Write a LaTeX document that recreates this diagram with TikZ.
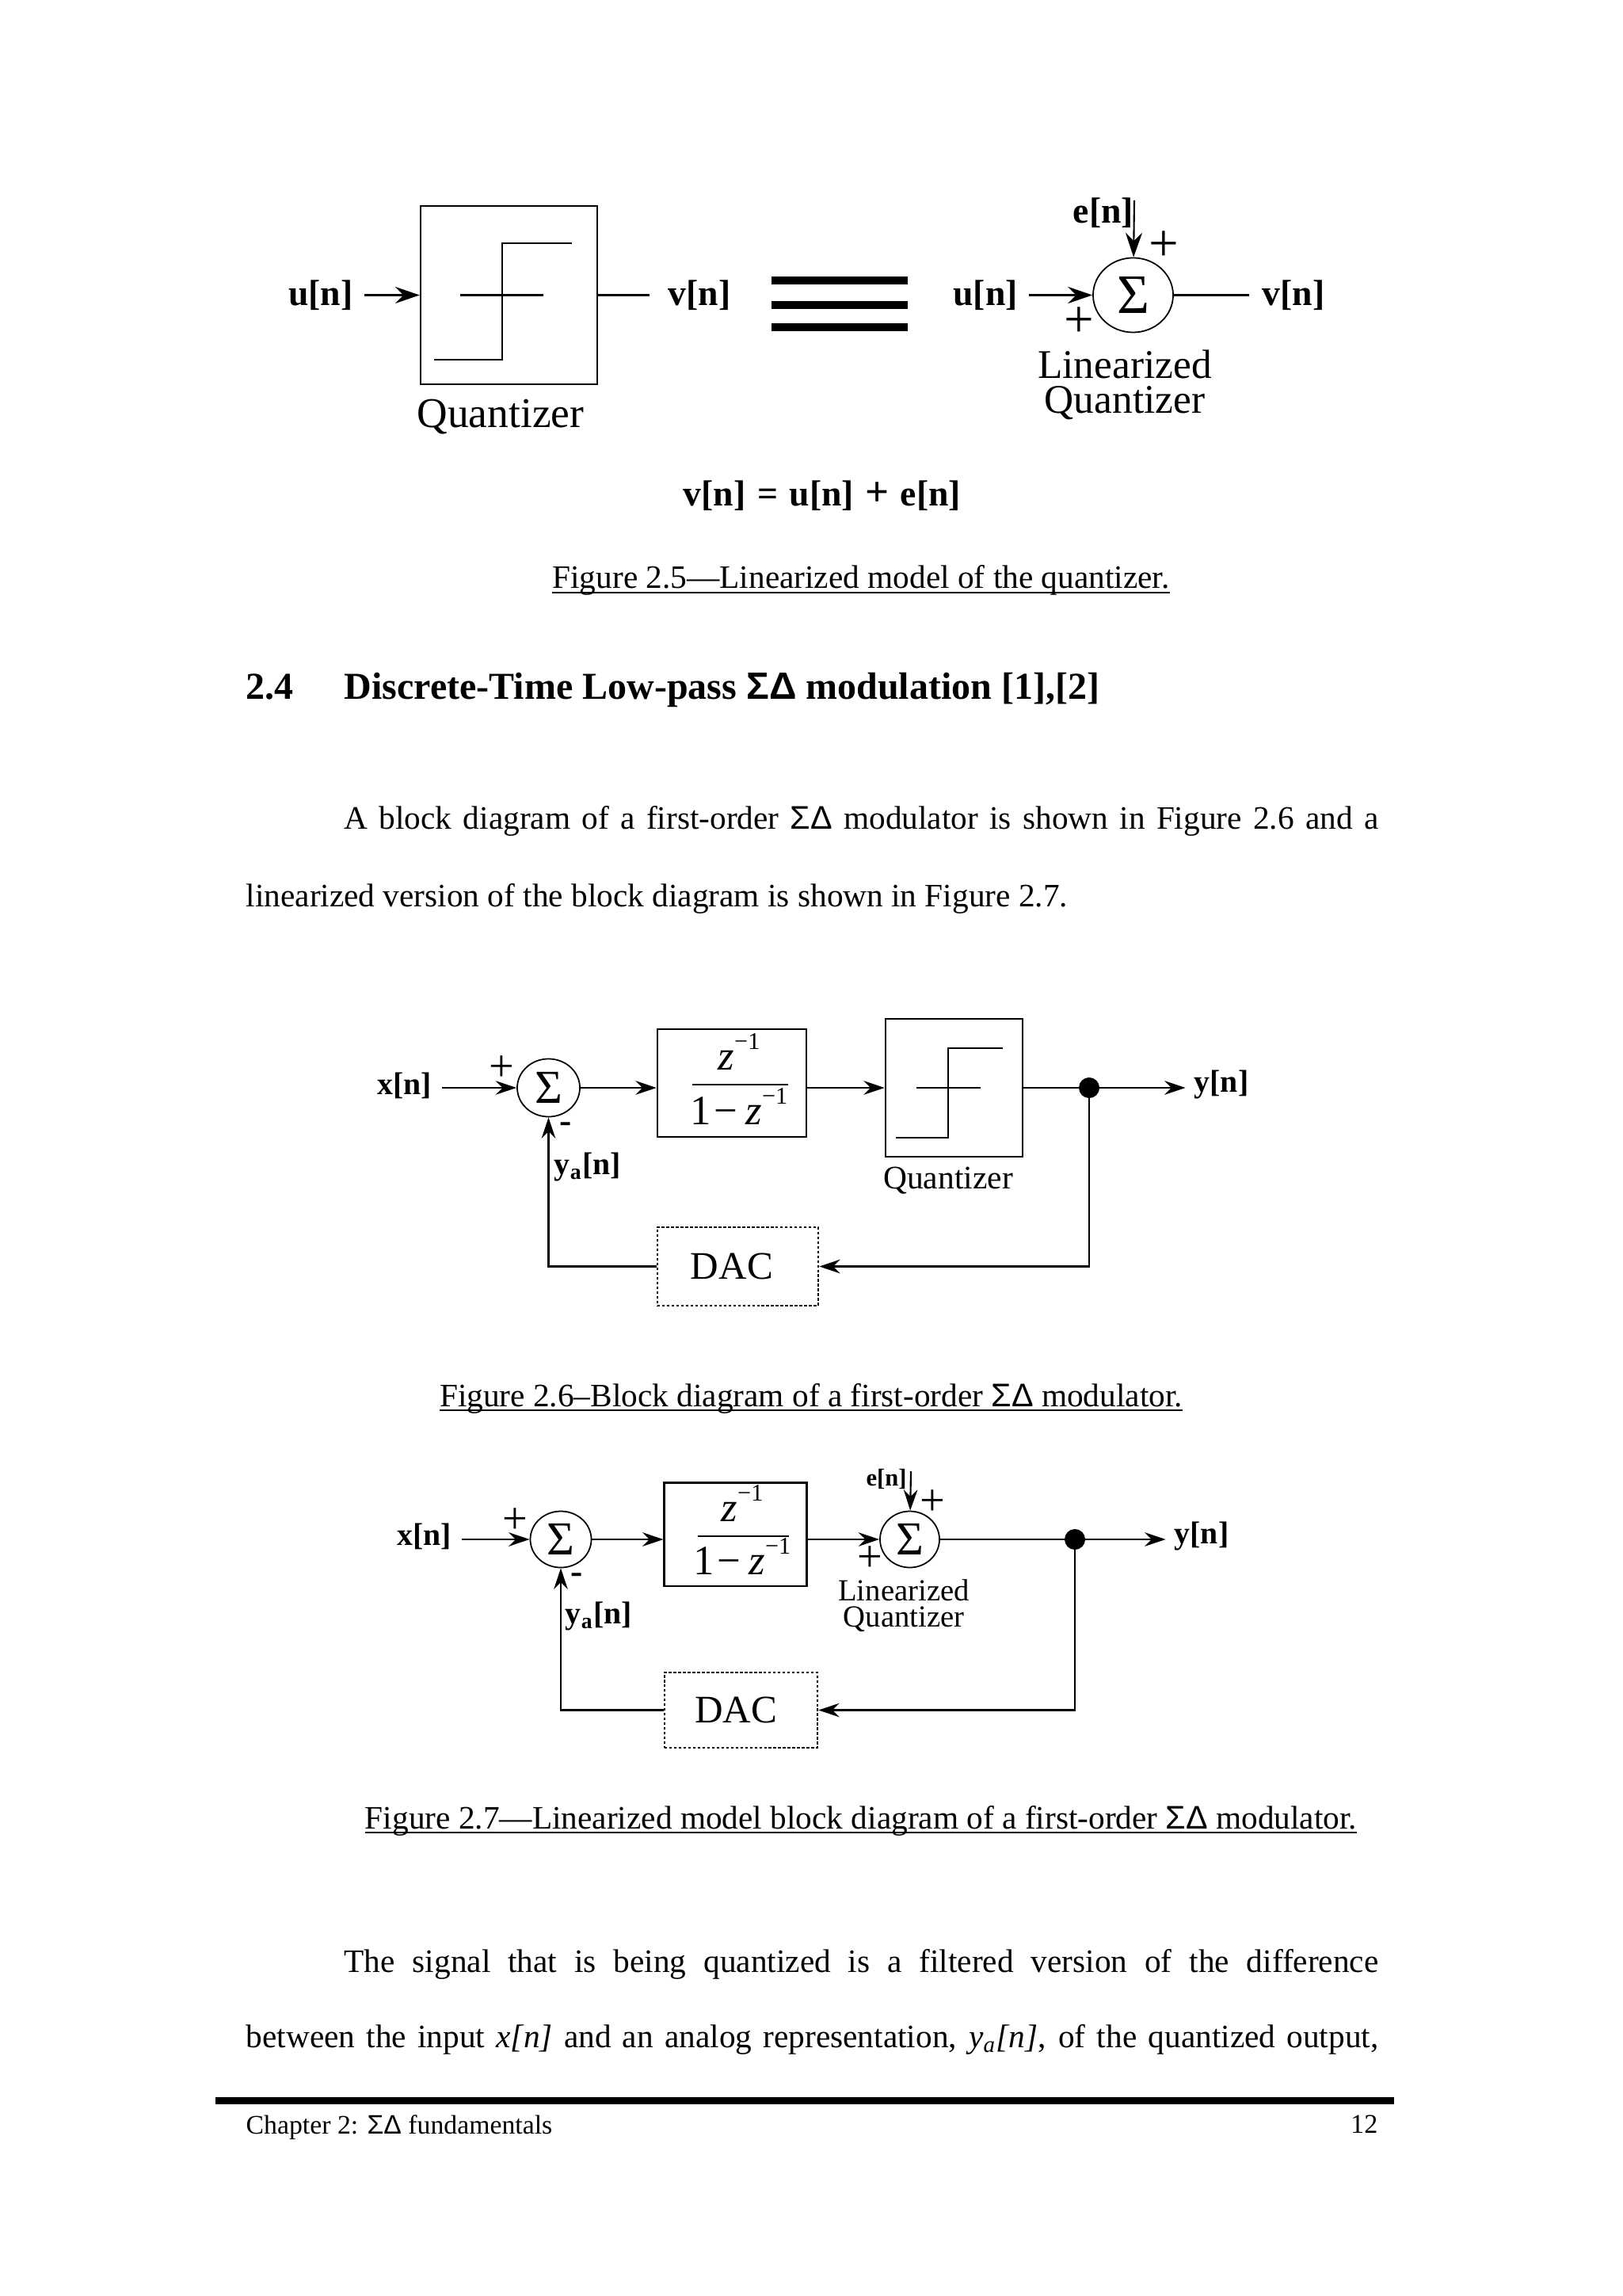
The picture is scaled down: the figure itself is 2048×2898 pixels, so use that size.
\documentclass[tikz,border=0pt]{standalone}
\usepackage{fontspec}
\setmainfont{Liberation Serif}
\setsansfont{Liberation Sans}
\usetikzlibrary{arrows.meta,shapes.geometric}
\newcommand{\sd}{{\sffamily ΣΔ}}
\newcommand{\fs}[1]{\fontsize{#1}{#1}\selectfont}
\newcommand{\uln}[1]{\underline{\smash{\mbox{#1}}}}
\newcommand{\zinv}{\textit{z}\raisebox{.48em}{\fs{8.6}−1}}
\tikzset{
  line/.style={line width=0.6pt},
  arr/.style={line, -{Stealth[length=7.5pt,width=5pt,inset=2.5pt]}},
  arrbig/.style={line, -{Stealth[length=8.8pt,width=6pt,inset=3pt]}},
  box/.style={draw, line width=0.7pt, rectangle, inner sep=0pt},
  dacbox/.style={draw, line width=0.7pt, rectangle, inner sep=0pt, dash pattern=on 1pt off 0.7pt, font=\fs{14}},
  sumbig/.style={draw, line width=0.5pt, ellipse, inner sep=0pt, minimum width=101*0.2845pt, minimum height=94*0.2845pt, font=\fs{20}},
  sumsmall/.style={draw, line width=0.5pt, ellipse, inner sep=0pt, minimum width=78*0.2845pt, minimum height=72*0.2845pt, font=\fs{17}},
  junction/.style={draw, circle, fill=black, inner sep=0pt, minimum size=7pt},
  lab/.style={font=\bfseries\fs{13}, inner sep=0pt, inner xsep=4pt},
  labsmall/.style={font=\bfseries\fs{11.3}, inner sep=0pt, inner xsep=3.5pt},
  plusbig/.style={font=\fs{19}, inner sep=0pt},
  plussmall/.style={font=\fs{16}, inner sep=0pt},
  note/.style={anchor=base, inner sep=0pt},
  frac/.style={anchor=base, inner sep=0pt, font=\fs{15}},
  bodyline/.style={anchor=base west, inner sep=0pt, font=\fs{11.75}},
  caption/.style={anchor=base, inner sep=0pt, font=\fs{11.75}}
}
\begin{document}
\begin{tikzpicture}[x=0.01cm, y=-0.01cm]
\useasboundingbox (0,0) rectangle (2048,2898);
\node (qbox) [box, minimum width=223*0.2845pt, minimum height=225*0.2845pt] at (642.5,372.5) {};
\node (ulab) [lab] at (405,372.5) {u[n]};
\node (vlab) [lab, inner xsep=6.5pt] at (883,372.5) {v[n]};
\draw[arrbig] (ulab) -- (qbox);
\draw[line] (qbox) -- (vlab);
\draw[line] (548,454) -- (634,454) -- (634,307) -- (722,307);
\draw[line] (581,372.5) -- (686,372.5);
\node (qname) [note, font=\fs{15.2}] at (632,540) {Quantizer};
\fill (974,349) rectangle (1146,359);
\fill (974,380) rectangle (1146,390);
\fill (974,408) rectangle (1146,418);
\node (sumq) [sumbig] at (1430.5,372.5) {Σ};
\node (ulabb) [lab] at (1244,372.5) {u[n]};
\node (vlabb) [lab, inner xsep=4.5pt] at (1633,372.5) {v[n]};
\node (elab) [lab] at (1393,269) {e[n]};
\coordinate (etop) at (1432,253);
\draw[arrbig] (ulabb) -- (sumq);
\draw[line] (sumq) -- (vlabb);
\draw[arrbig] (etop) -- (sumq);
\node (pa) [plusbig] at (1469,311) {+};
\node (pb) [plusbig] at (1362,407) {+};
\node (lname) [note, font=\fs{14.6}] at (1420,478) {Linearized};
\node (qnameb) [note, font=\fs{14.6}] at (1420,522) {Quantizer};
\node (eqn) [anchor=base, inner sep=0pt, font=\bfseries\fs{13}] at (1038,639) {\makebox[3.5cm][s]{v[n] = u[n] {\fs{15}+} e[n]}};
\node (capa) [caption] at (1087,743) {\uln{Figure 2.5—Linearized model of the quantizer.}};
\node (secnum) [bodyline, font=\bfseries\fs{13.65}] at (310,883) {2.4};
\node (sectitle) [bodyline, font=\bfseries\fs{13.65}] at (434,883) {Discrete-Time Low-pass \sd{} modulation [1],[2]};
\node (para) [bodyline] at (434,1046) {\makebox[13.05cm][s]{A block diagram of a first-order \sd{} modulator is shown in Figure 2.6 and a}};
\node (parb) [bodyline] at (310,1144) {linearized version of the block diagram is shown in Figure 2.7.};
\node (suma) [sumsmall, minimum width=79*0.2845pt, minimum height=73*0.2845pt] at (692.5,1373) {Σ};
\node (xlab) [labsmall] at (511,1370) {x[n]};
\node (filta) [box, minimum width=188*0.2845pt, minimum height=136*0.2845pt] at (924,1367) {};
\node (numa) [frac] at (933,1350) {\zinv};
\node (dena) [frac] at (933,1419) {1\hspace{.06em}−\hspace{.2em}\zinv};
\draw[line] (874,1369) -- (995,1369);
\node (qboxa) [box, minimum width=173*0.2845pt, minimum height=174*0.2845pt] at (1204.5,1373) {};
\node (dota) [junction] at (1375,1373) {};
\node (ylab) [labsmall, inner xsep=3pt] at (1542,1369) {y[n]};
\node (daca) [dacbox, minimum width=203*0.2845pt, minimum height=99*0.2845pt] at (931.5,1598.5) {\hspace{-4.3pt}DAC\hspace{4.3pt}};
\draw[arr] (xlab.east |- suma) -- (suma);
\draw[arr] (suma) -- (filta.west |- suma);
\draw[arr] (filta.east |- suma) -- (qboxa);
\draw[line] (qboxa) -- (dota);
\draw[arr] (dota) -- (ylab.west |- dota);
\draw[arr] (dota) |- (daca);
\draw[arr] (daca) -| (suma);
\draw[line] (1131,1436) -- (1197,1436) -- (1197,1323) -- (1266,1323);
\draw[line] (1157,1373) -- (1238,1373);
\node (pc) [plussmall] at (633,1349) {+};
\node (ma) [font=\bfseries\fs{13}, inner sep=0pt] at (714,1423) {-};
\node (yaa) [labsmall] at (742,1473) {y\textsubscript{a}[n]};
\node (qnamea) [note, font=\fs{11.8}] at (1197,1500) {Quantizer};
\node (capb) [caption] at (1024,1775) {\uln{Figure 2.6–Block diagram of a first-order \sd{} modulator.}};
\node (sumb) [sumsmall, minimum width=77*0.2845pt, minimum height=71*0.2845pt] at (708,1943) {Σ};
\node (xlabb) [labsmall] at (536,1939) {x[n]};
\node (filtb) [box, minimum width=179.5*0.2845pt, minimum height=130*0.2845pt] at (928.5,1936.7) {};
\node (numb) [frac] at (937,1920) {\zinv};
\node (denb) [frac] at (937,1987) {1\hspace{.06em}−\hspace{.2em}\zinv};
\draw[line] (880.5,1939) -- (995.6,1939);
\node (sumc) [sumsmall, minimum width=75*0.2845pt, minimum height=71*0.2845pt] at (1148.5,1943) {Σ};
\node (dotb) [junction] at (1357,1943) {};
\node (ylabb) [labsmall, inner xsep=3pt] at (1517,1939) {y[n]};
\node (elabb) [font=\bfseries\fs{8.7}, inner sep=0pt] at (1119,1867) {e[n]};
\coordinate (etopb) at (1150,1857);
\node (dacb) [dacbox, minimum width=193*0.2845pt, minimum height=95*0.2845pt] at (935.5,2158.5) {\hspace{-3.7pt}DAC\hspace{3.7pt}};
\draw[arr] (xlabb.east |- sumb) -- (sumb);
\draw[arr] (sumb) -- (filtb.west |- sumb);
\draw[arr] (filtb.east |- sumb) -- (sumc);
\draw[line] (sumc) -- (dotb);
\draw[arr] (dotb) -- (ylabb.west |- dotb);
\draw[arr] (etopb) -- (sumc);
\draw[arr] (dotb) |- (dacb);
\draw[arr] (dacb) -| (sumb);
\node (pd) [plussmall] at (650,1920) {+};
\node (pe) [plussmall] at (1177,1897) {+};
\node (pf) [plussmall] at (1098,1968) {+};
\node (mb) [font=\bfseries\fs{13}, inner sep=0pt] at (728,1992) {-};
\node (yab) [labsmall] at (756,2040) {y\textsubscript{a}[n]};
\node (lnameb) [note, font=\fs{11}] at (1141,2020) {Linearized};
\node (qnamec) [note, font=\fs{11}] at (1141,2053) {Quantizer};
\node (capc) [caption] at (1087,2308) {\uln{Figure 2.7—Linearized model block diagram of a first-order \sd{} modulator.}};
\node (parc) [bodyline] at (434,2489) {\makebox[13.05cm][s]{The signal that is being quantized is a filtered version of the difference}};
\node (pard) [bodyline] at (310,2584) {\makebox[14.29cm][s]{between the input \textit{x[n]} and an analog representation, \textit{y\textsubscript{a}[n]}, of the quantized output,}};
\fill (272,2647) rectangle (1760,2656);
\node (foot) [bodyline, font=\fs{9.6}] at (310,2693) {Chapter 2: \sd{} fundamentals};
\node (page) [anchor=base east, inner sep=0pt, font=\fs{9.7}] at (1740,2692) {12};
\end{tikzpicture}
\end{document}
